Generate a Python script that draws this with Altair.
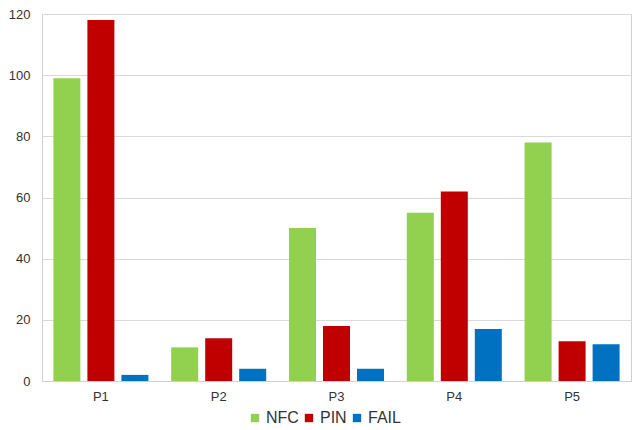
import altair as alt
import pandas as pd

categories = ["P1", "P2", "P3", "P4", "P5"]
series = ["NFC", "PIN", "FAIL"]
nfc = [99, 11, 50, 55, 78]
pin = [118, 14, 18, 62, 13]
fail = [2, 4, 4, 17, 12]
colors = ["#92D050", "#C00000", "#0070C0"]

rows = []
for i, c in enumerate(categories):
    for s, vals in zip(series, [nfc, pin, fail]):
        rows.append({"cat": c, "series": s, "value": vals[i]})
df = pd.DataFrame(rows)

chart = alt.Chart(df).mark_bar().encode(
    x=alt.X("cat:N", sort=categories, title=None,
            scale=alt.Scale(paddingInner=0, paddingOuter=0),
            axis=alt.Axis(labelAngle=0, labelFontSize=13, labelColor="#333333",
                          labelFont="Liberation Sans", ticks=False, domainColor="#d0d0d0",
                          labelPadding=9)),
    xOffset=alt.XOffset("series:N", sort=series,
                        scale=alt.Scale(paddingInner=0.206, paddingOuter=0.335)),
    y=alt.Y("value:Q", title=None,
            scale=alt.Scale(domain=[0, 120]),
            axis=alt.Axis(values=[0, 20, 40, 60, 80, 100, 120], labelFontSize=13,
                          labelColor="#333333", labelFont="Liberation Sans", ticks=False,
                          domain=False, gridColor="#d9d9d9", labelPadding=12)),
    color=alt.Color("series:N", sort=series,
                    scale=alt.Scale(domain=series, range=colors),
                    legend=alt.Legend(title=None, orient="none", direction="horizontal",
                                      legendX=205, legendY=396, symbolType="square",
                                      symbolSize=70, symbolStrokeWidth=0,
                                      labelFontSize=16, labelFont="Liberation Sans",
                                      labelColor="#333333", columnPadding=2,
                                      labelOffset=3)),
).properties(
    width=589, height=367,
    padding={"left": 42, "top": 14, "right": 1, "bottom": 49},
    autosize=alt.AutoSizeParams(type="none"),
).configure_view(stroke="#d0d0d0", strokeWidth=1)

chart.save("out.html", embed_options={"renderer": "svg", "actions": False})
